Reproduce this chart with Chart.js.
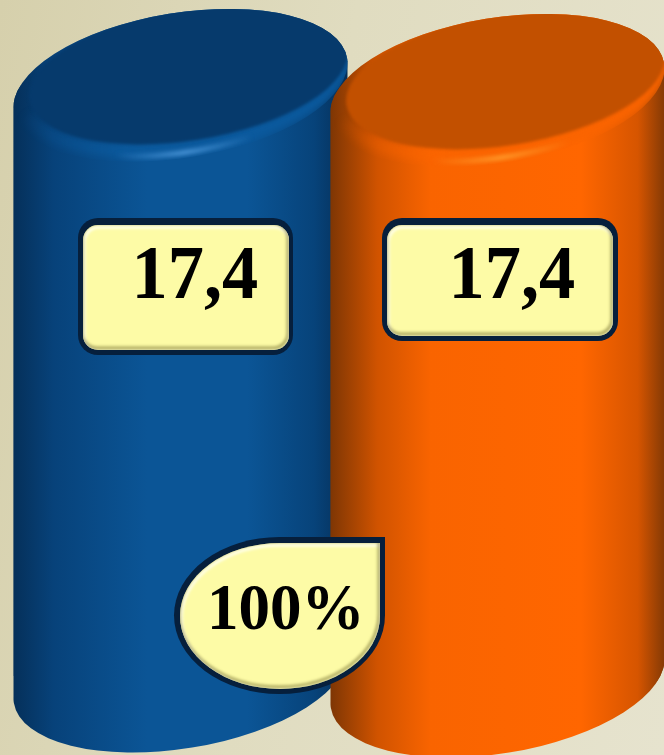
<!DOCTYPE html>
<html>
<head>
<meta charset="utf-8">
<title>17,4</title>
<script src="https://cdn.jsdelivr.net/npm/chart.js@4/dist/chart.umd.js"></script>
<style>
    html, body { margin: 0; padding: 0; }
    body {
        width: 664px;
        height: 755px;
        overflow: hidden;
        background: linear-gradient(100deg, #d6d0ac 0%, #e0dcc0 45%, #e6e3ce 100%);
    }
    canvas { display: block; }
</style>
</head>
<body>
<canvas id="cylinderChart" width="664" height="755"></canvas>
<script>
// Chart data
const categories = ['A', 'B'];
const blueValues = [17.4, null];
const orangeValues = [null, 17.4];
const shareLabel = '100%';

// Colors for the cylinder bodies
const blueStops = [[0, '#05305a'], [0.12, '#07427a'], [0.4, '#0b5596'], [0.7, '#0b5596'], [0.9, '#07437a'], [1, '#052f58']];
const orangeStops = [[0, '#7e3604'], [0.14, '#d05300'], [0.3, '#f96400'], [0.75, '#ff6600'], [0.92, '#d65500'], [1, '#853a05']];
const blueFace = '#063a6c';
const orangeFace = '#c25000';
const blueRim = '#0b5a9e';
const orangeRim = '#fa6400';
const blueGlow = '#4a95d8';
const orangeGlow = '#ff9a2a';

const tilt = -9.2 * Math.PI / 180;
const ellipseA = 168.8;
const ellipseB = 72.5;
const tipDrop = 24; // how far the side tips of the tilted ellipse sit from its centre
const barShift = [0, 5]; // the right cylinder sits a little lower

function bodyGradient(chart, x, width, stops) {
    const g = chart.ctx.createLinearGradient(x - width / 2, 0, x + width / 2, 0);
    stops.forEach(s => g.addColorStop(s[0], s[1]));
    return g;
}

// Bar fill, built from the x scale position of the bar
function bodyFill(stops) {
    return function(context) {
        const chart = context.chart;
        const x = chart.scales.x ? chart.scales.x.getPixelForValue(context.dataIndex) : NaN;
        if (!isFinite(x)) {
            return stops[2][1];
        }
        return bodyGradient(chart, x, 334, stops);
    };
}

function activeBar(chart, datasetIndex) {
    const values = chart.data.datasets[datasetIndex].data;
    const i = values.findIndex(v => v !== null);
    return { bar: chart.getDatasetMeta(datasetIndex).data[i], index: i };
}

// Outline of the whole cylinder: both end ellipses and the straight sides between their tips
function cylinderPath(ctx, bar) {
    const half = bar.width / 2;
    ctx.beginPath();
    ctx.ellipse(bar.x, bar.y, ellipseA, ellipseB, tilt, 0, Math.PI * 2);
    ctx.closePath();
    ctx.ellipse(bar.x, bar.base, ellipseA, ellipseB, tilt, 0, Math.PI * 2);
    ctx.closePath();
    ctx.moveTo(bar.x - half, bar.y + tipDrop);
    ctx.lineTo(bar.x + half, bar.y - tipDrop);
    ctx.lineTo(bar.x + half, bar.base - tipDrop);
    ctx.lineTo(bar.x - half, bar.base + tipDrop);
    ctx.closePath();
}

const cylinderPlugin = {
    id: 'cylinder',
    beforeDatasetDraw(chart, args) {
        const ctx = chart.ctx;
        const ds = chart.data.datasets[args.index];
        const { bar, index } = activeBar(chart, args.index);
        ctx.save();
        ctx.translate(0, barShift[index]);
        cylinderPath(ctx, bar);
        ctx.fillStyle = bodyGradient(chart, bar.x, bar.width, ds.stops);
        ctx.fill('nonzero');
        // the square bar corners must not stick out of the cylinder
        ctx.save();
        cylinderPath(ctx, bar);
        ctx.clip('nonzero');
    },
    afterDatasetDraw(chart, args) {
        const ctx = chart.ctx;
        const ds = chart.data.datasets[args.index];
        const { bar } = activeBar(chart, args.index);
        const cx = bar.x;
        const cy = bar.y;
        ctx.restore(); // clip from beforeDatasetDraw

        ctx.save();
        ctx.beginPath();
        ctx.ellipse(cx, cy, ellipseA, ellipseB, tilt, 0, Math.PI * 2);
        ctx.clip();

        // lighter band of the rim, fades out towards the left
        const rimFade = ctx.createLinearGradient(cx - 165, 0, cx - 40, 0);
        rimFade.addColorStop(0, ds.rim + '00');
        rimFade.addColorStop(1, ds.rim);
        ctx.filter = 'blur(4px)';
        ctx.beginPath();
        ctx.ellipse(cx + 4, cy - 6, 162, 68, tilt, -0.02 * Math.PI, 0.95 * Math.PI);
        ctx.strokeStyle = rimFade;
        ctx.lineWidth = 14;
        ctx.stroke();

        // soft highlight on the front of the rim
        const hx = cx + 4;
        const hy = cy + 67;
        const glow = ctx.createRadialGradient(hx, hy, 0, hx, hy, 70);
        glow.addColorStop(0, ds.glow);
        glow.addColorStop(1, ds.glow + '00');
        ctx.filter = 'blur(2px)';
        ctx.beginPath();
        ctx.ellipse(cx, cy - 5, 166, 72, tilt, 0.2 * Math.PI, 0.8 * Math.PI);
        ctx.strokeStyle = glow;
        ctx.lineWidth = 5;
        ctx.stroke();

        // flat top face
        ctx.filter = 'blur(1.5px)';
        ctx.beginPath();
        ctx.ellipse(cx + 8, cy - 11, 161, 66, tilt, 0, Math.PI * 2);
        ctx.fillStyle = ds.face;
        ctx.fill();
        ctx.restore();

        ctx.restore(); // translate from beforeDatasetDraw
    }
};

function roundedBox(x, y, w, h, r) {
    return function(ctx) {
        ctx.beginPath();
        ctx.roundRect(x, y, w, h, r);
    };
}

// Teardrop outline: square top right corner, everything else round
function teardrop(left, top, right, bottom) {
    return function(ctx) {
        const rx = (right - left) / 2;
        const ry = (bottom - top) / 2;
        const cx = left + rx;
        const cy = top + ry;
        ctx.beginPath();
        ctx.moveTo(right, top);
        ctx.lineTo(cx, top);
        ctx.ellipse(cx, cy, rx, ry, 0, -Math.PI / 2, 0, true);
        ctx.closePath();
    };
}

function bevelStroke(ctx, path, color, dx, dy) {
    ctx.save();
    path(ctx);
    ctx.clip();
    ctx.filter = 'blur(1.5px)';
    ctx.translate(dx, dy);
    path(ctx);
    ctx.lineWidth = 3;
    ctx.strokeStyle = color;
    ctx.stroke();
    ctx.restore();
}

function drawPlate(ctx, outer, inner) {
    outer(ctx);
    ctx.fillStyle = '#061f3c';
    ctx.fill();
    inner(ctx);
    ctx.fillStyle = '#fdfba6';
    ctx.fill();
    bevelStroke(ctx, inner, '#fffff2', 1, 2);
    bevelStroke(ctx, inner, 'rgba(100,95,35,0.55)', -1, -2);
}

// widthScale squeezes the text sideways, the reference glyphs are a bit tall
function writeLabel(ctx, text, x, y, size, widthScale) {
    ctx.save();
    ctx.translate(x, y);
    ctx.scale(widthScale, 1);
    ctx.font = 'bold ' + size + 'px "Liberation Serif"';
    ctx.fillStyle = '#000000';
    ctx.textAlign = 'left';
    ctx.textBaseline = 'alphabetic';
    ctx.fillText(text, 0, 0);
    ctx.restore();
}

const labelPlugin = {
    id: 'labels',
    afterDraw(chart) {
        const ctx = chart.ctx;
        const first = activeBar(chart, 0).bar;
        const second = activeBar(chart, 1).bar;

        const left = first.x;
        drawPlate(ctx, roundedBox(left - 102.5, 218, 215, 137, 20), roundedBox(left - 97.5, 225, 206, 125, 15));
        writeLabel(ctx, String(blueValues[0]).replace('.', ','), left - 49, 298, 77, 0.94);

        const right = second.x;
        drawPlate(ctx, roundedBox(right - 115.5, 218, 236, 123, 20), roundedBox(right - 110.5, 225, 226, 111, 15));
        writeLabel(ctx, String(orangeValues[1]).replace('.', ','), right - 49, 298, 77, 0.94);

        drawPlate(ctx, teardrop(174, 537, 385, 694), teardrop(180, 543, 380, 689));
        writeLabel(ctx, shareLabel, 207, 629, 65, 0.97);
    }
};

const chart = new Chart(document.getElementById('cylinderChart').getContext('2d'), {
    type: 'bar',
    data: {
        labels: categories,
        datasets: [
            {
                data: blueValues,
                order: 2,
                clip: false,
                backgroundColor: bodyFill(blueStops),
                stops: blueStops,
                face: blueFace,
                rim: blueRim,
                glow: blueGlow
            },
            {
                data: orangeValues,
                order: 1,
                clip: false,
                backgroundColor: bodyFill(orangeStops),
                stops: orangeStops,
                face: orangeFace,
                rim: orangeRim,
                glow: orangeGlow
            }
        ]
    },
    options: {
        responsive: false,
        animation: false,
        grouped: false,
        categoryPercentage: 1,
        barPercentage: 334 / 317,
        layout: {
            padding: { left: 22, right: 8, top: 65, bottom: 79 }
        },
        scales: {
            x: { display: false },
            y: { display: false, min: 0, max: 18 }
        },
        plugins: {
            legend: { display: false },
            title: { display: false },
            tooltip: { enabled: false }
        }
    },
    plugins: [cylinderPlugin, labelPlugin]
});
</script>
</body>
</html>
